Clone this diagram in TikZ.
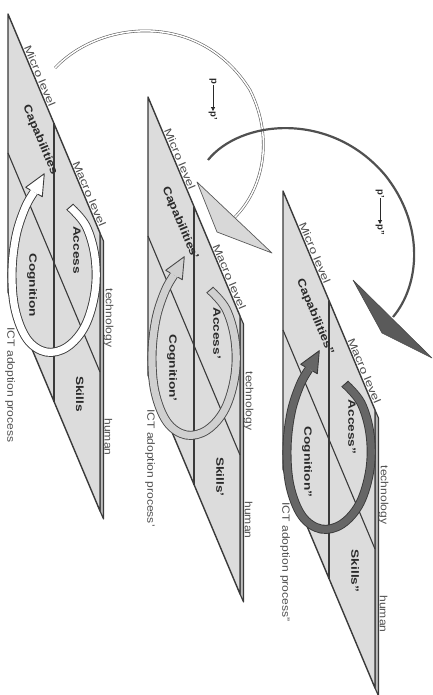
\documentclass[tikz,border=0pt]{standalone}
\usepackage{fontspec}
\setmainfont{Liberation Sans}
\usetikzlibrary{arrows.meta}
\definecolor{edgec}{HTML}{3A3A3A}
\definecolor{planec}{HTML}{DCDCDC}
\definecolor{stripc}{HTML}{BDBDBD}
\definecolor{boldc}{HTML}{2A2A2A}
\definecolor{plainc}{HTML}{505050}
\definecolor{ringa}{HTML}{FFFFFF}
\definecolor{ringb}{HTML}{D0D0D0}
\definecolor{ringc}{HTML}{666666}
\definecolor{ringedge}{HTML}{4A4A4A}
\definecolor{headb}{HTML}{D8D8D8}
\definecolor{headc}{HTML}{5A5A5A}
\definecolor{arcc}{HTML}{505050}
\tikzset{
  face/.style={fill=planec, draw=edgec, line width=1.4pt, line join=round},
  stripface/.style={fill=stripc, draw=edgec, line width=1.1pt, line join=round},
  midline/.style={draw=edgec, line width=1.1pt},
  vtext/.style={rotate=-90, xscale=1.15, inner sep=0pt, text=plainc, font=\fontsize{10.5}{11}\selectfont},
  vbold/.style={rotate=-90, xscale=1.3, inner sep=0pt, text=boldc, font=\fontsize{10.5}{11}\selectfont\bfseries},
  stext/.style={rotate=-67.2, xscale=1.3, inner sep=0pt, text=plainc, font=\fontsize{10.5}{11}\selectfont},
  sbold/.style={rotate=-67.2, xscale=1.2, inner sep=0pt, text=boldc, font=\fontsize{11}{12}\selectfont\bfseries},
  plabel/.style={rotate=-90, inner sep=0.5pt, text=boldc, font=\fontsize{9.5}{10}\selectfont\bfseries},
  plarrow/.style={draw=boldc, line width=0.9pt, -{Triangle[length=4pt,width=4pt]}},
  arcone/.style={draw=gray!75!black, line width=0.6pt, double=white, double distance=1.5pt},
  arctwo/.style={draw=arcc, line width=2.2pt},
  headone/.style={fill=headb, draw=gray!70!black, line width=0.7pt, line join=round},
  headtwo/.style={fill=headc, draw=headc!80!black, line width=0.6pt, line join=round},
}
% #1,#2 offset  #3 name suffix  #4 primes  #5 ring fill  #6 ring edge
\newcommand{\ictplane}[6]{%
\begin{scope}[shift={(#1,#2)}]
  \filldraw[stripface] (100,233) -- (103.5,241) -- (103.5,519) -- (100,511) -- cycle;
  \filldraw[face] (8,14) -- (100,233) -- (100,511) -- (8,292) -- cycle;
  \draw[midline] (54,123.5) -- (54,401.5);
  \draw[midline] (8,153) -- (100,372);
  % circular arrow
  \draw[line width=9pt, draw=#6] plot[smooth, tension=0.6] coordinates {(70,207) (86,226) (95,257) (95,292) (85,326) (67,347) (46,352) (27,339) (15,309) (12,272) (16,236) (25,208) (34,192)};
  \draw[line width=7.2pt, draw=#5] plot[smooth, tension=0.6] coordinates {(70,207) (86,226) (95,257) (95,292) (85,326) (67,347) (46,352) (27,339) (15,309) (12,272) (16,236) (25,208) (34,192)};
  \draw[draw=#6, line width=0.9pt] (73.4,204.1) -- (66.6,209.9);
  \fill[#5] (42.3,196.7) -- (44.3,173.7) -- (25.7,187.3) -- (34,192) -- cycle;
  \draw[draw=#6, line width=0.9pt, line join=round] (37.9,194.2) -- (42.3,196.7) -- (44.3,173.7) -- (25.7,187.3) -- (30.1,189.8);
  % labels
  \node[stext, anchor=south] (micro#3) at (36.2,77.5) {Micro level};
  \node[stext, anchor=south] (macro#3) at (85.7,195.5) {Macro level};
  \node[sbold] (cap#3) at (40,140) {Capabilities#4};
  \node[vbold] (acc#3) at (77,250) {Access#4};
  \node[vbold] (cog#3) at (32,285) {Cognition#4};
  \node[vbold] (skl#3) at (80,394) {Skills#4};
  \node[vtext] (tech#3) at (108.5,318) {technology};
  \node[vtext] (hum#3) at (108.5,437) {human};
  \node[vtext] (ict#3) at (10,385) {ICT adoption process#4};
\end{scope}}

\begin{document}
\begin{tikzpicture}[x=1pt,y=-1pt]
\useasboundingbox (0,0) rectangle (433,695);
\fill[white] (0,0) rectangle (433,695);

\ictplane{0}{0}{a}{}{ringa}{edgec}
\ictplane{140}{83}{b}{'}{ringb}{ringedge}
\ictplane{275}{177}{c}{''}{ringc}{edgec}

% transition p -> p'
\coordinate (aones) at (55,68);
\coordinate (aonee) at (235,217);
\draw[arcone] (aones) .. controls (100,20) and (200,10) .. (250,90)
                      .. controls (275,140) and (262,190) .. (aonee);
\filldraw[headone] (197,182) -- (272,253) -- (217,232) -- cycle;

% transition p' -> p''
\coordinate (atwos) at (208,160);
\coordinate (atwoe) at (393,317);
\draw[arctwo] (atwos) .. controls (240,120) and (330,110) .. (385,175)
                      .. controls (425,225) and (420,285) .. (atwoe);
\filldraw[headtwo] (353,280) -- (432,358) -- (382,333) -- cycle;

\node[plabel] (pone) at (213,81.5) {p};
\node[plabel] (ponep) at (213,116) {p'};
\draw[plarrow] (pone) -- (ponep);

\node[plabel] (ptwo) at (380,193.5) {p'};
\node[plabel] (ptwop) at (380,230) {p''};
\draw[plarrow] (ptwo) -- (ptwop);
\end{tikzpicture}
\end{document}
